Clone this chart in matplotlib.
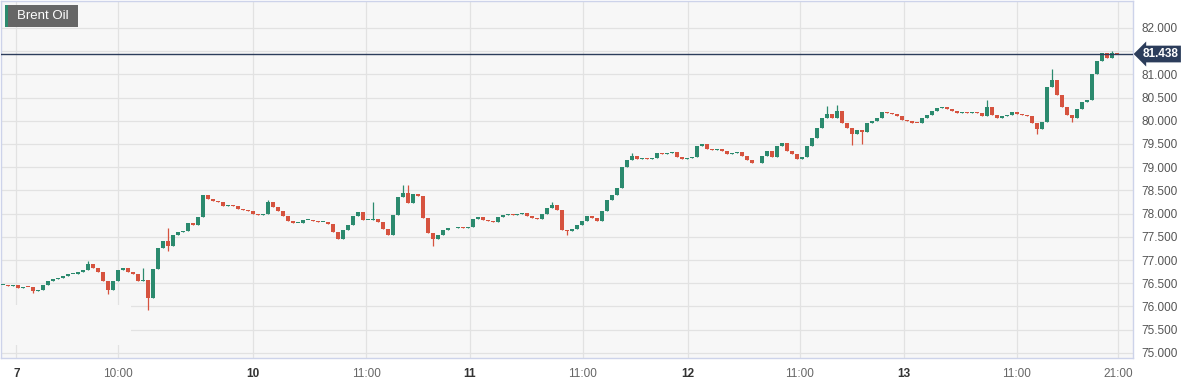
import numpy as np
import matplotlib.pyplot as plt
import matplotlib.transforms as mtransforms
from matplotlib.patches import Rectangle

plt.rcParams['font.family'] = ['Liberation Sans', 'DejaVu Sans']

# --- data (closes, one per bar) ---
closes = [
    76.47, 76.45, 76.46, 76.40, 76.43, 76.42, 76.33, 76.35, 76.46, 76.55,
    76.60, 76.62, 76.65, 76.70, 76.70, 76.74, 76.78, 76.92, 76.82, 76.75,
    76.55, 76.35, 76.55, 76.78, 76.82, 76.74, 76.70, 76.55, 76.58, 76.18,
    76.80, 77.25, 77.42, 77.30, 77.55, 77.60, 77.62, 77.80, 77.76, 77.93,
    78.40, 78.32, 78.28, 78.25, 78.17, 78.18, 78.17, 78.10, 78.08, 78.05,
    78.00, 77.98, 78.00, 78.25, 78.15, 78.05, 77.95, 77.85, 77.80, 77.80,
    77.86, 77.86, 77.84, 77.82, 77.83, 77.78, 77.60, 77.45, 77.65, 77.75,
    77.95, 78.04, 77.86, 77.86, 77.88, 77.82, 77.66, 77.55, 77.98, 78.35,
    78.45, 78.22, 78.42, 78.38, 77.90, 77.58, 77.45, 77.55, 77.65, 77.68,
    77.70, 77.72, 77.70, 77.72, 77.88, 77.92, 77.86, 77.84, 77.82, 77.92,
    77.98, 78.00, 77.98, 78.00, 78.01, 77.95, 77.90, 77.88, 78.00, 78.12,
    78.18, 78.08, 77.65, 77.62, 77.66, 77.75, 77.85, 77.94, 77.90, 77.84,
    78.05, 78.30, 78.40, 78.55, 79.00, 79.15, 79.25, 79.18, 79.20, 79.18,
    79.20, 79.30, 79.28, 79.30, 79.32, 79.22, 79.18, 79.20, 79.22, 79.45,
    79.50, 79.40, 79.38, 79.40, 79.35, 79.28, 79.30, 79.33, 79.25, 79.15,
    79.10, 79.08, 79.25, 79.35, 79.22, 79.45, 79.52, 79.35, 79.28, 79.18,
    79.22, 79.45, 79.62, 79.85, 80.05, 80.15, 80.05, 80.22, 79.95, 79.85,
    79.72, 79.80, 79.75, 79.95, 80.00, 80.05, 80.18, 80.17, 80.15, 80.10,
    80.02, 80.00, 79.96, 79.95, 80.05, 80.12, 80.20, 80.27, 80.30, 80.26,
    80.22, 80.16, 80.18, 80.17, 80.19, 80.16, 80.10, 80.30, 80.12, 80.05,
    80.10, 80.12, 80.18, 80.14, 80.13, 80.10, 79.95, 79.82, 79.98, 80.72,
    80.88, 80.55, 80.30, 80.12, 80.05, 80.25, 80.40, 80.45, 81.00, 81.28,
    81.45, 81.35, 81.47, 81.44,
]
first_open = 76.47
# long wicks that stand out (bar index -> price)
wick_high = {17: 76.98, 28: 76.83, 33: 77.70, 53: 78.30, 74: 78.24, 80: 78.62,
             81: 78.62, 110: 78.25, 126: 79.30, 165: 80.32, 167: 80.34,
             197: 80.45, 210: 81.12, 222: 81.50}
wick_low = {6: 76.28, 21: 76.26, 29: 75.93, 33: 77.20, 86: 77.30, 113: 77.55,
            170: 79.48, 172: 79.50, 207: 79.72, 214: 79.98}
last_price = 81.438

tick_pos = [2.7, 23.0, 50.0, 72.7, 93.5, 116.1, 137.1, 159.5, 180.4, 202.9, 223.2]
tick_labels = ['7', '10:00', '10', '11:00', '11', '11:00', '12', '11:00', '13', '11:00', '21:00']
day_labels = ['7', '10', '11', '12', '13']
y_ticks = [75.0, 75.5, 76.0, 76.5, 77.0, 77.5, 78.0, 78.5, 79.0, 79.5,
           80.0, 80.5, 81.0, 81.5, 82.0]

GREEN = '#2b8a6e'
RED = '#d6533f'
NAVY = '#2c3d5b'
BG = '#f7f7f7'

opens = [first_open] + closes[:-1]
x = np.arange(len(closes))
highs = [wick_high.get(i, max(o, c)) for i, (o, c) in enumerate(zip(opens, closes))]
lows = [wick_low.get(i, min(o, c)) for i, (o, c) in enumerate(zip(opens, closes))]
colors = [GREEN if c >= o else RED for o, c in zip(opens, closes)]
bottoms = [min(o, c) for o, c in zip(opens, closes)]
heights = [max(abs(c - o), 0.015) for o, c in zip(opens, closes)]

fig = plt.figure(figsize=(11.98, 3.85), dpi=100)
ax = fig.add_axes([0.0008, 0.0701, 0.9449, 0.9273])
ax.set_facecolor(BG)

ax.vlines(x, lows, highs, colors=colors, lw=0.9, zorder=2)
ax.bar(x, heights, bottom=bottoms, width=0.8, color=colors, linewidth=0, zorder=3)

ax.axhline(last_price, color=NAVY, lw=1, zorder=4)

# blank patch bottom-left where the grid is hidden
ax.add_patch(Rectangle((-0.4, 75.17), 26.0, 0.86, facecolor=BG, edgecolor='none', zorder=1))

ax.set_xlim(-0.4, 226.2)
ax.set_ylim(74.89, 82.58)

ax.set_xticks(tick_pos)
ax.set_xticklabels(tick_labels)
for lab in ax.get_xticklabels():
    if lab.get_text() in day_labels:
        lab.set_fontweight('bold')
        lab.set_color('#333333')
    else:
        lab.set_color('#666666')
ax.set_yticks(y_ticks)
# the 81.500 label sits under the price tag, so it is left blank
ax.set_yticklabels(['' if v == 81.5 else f'{v:.3f}' for v in y_ticks])
ax.yaxis.tick_right()
ax.tick_params(axis='y', length=0, pad=6, labelsize=8.5, labelcolor='#555555')
ax.tick_params(axis='x', length=0, pad=7, labelsize=8.5)

ax.set_axisbelow(True)
ax.grid(True, color='#e2e2e2', lw=0.9)
for sp in ax.spines.values():
    sp.set_color('#cdd3ea')
    sp.set_linewidth(1)

# last price tag on the right axis
trans = mtransforms.blended_transform_factory(ax.transAxes, ax.transData)
ax.annotate(f'{last_price:.3f}', xy=(1.0, last_price), xycoords=trans,
            xytext=(7, 0), textcoords='offset points', ha='left', va='center',
            fontsize=8.5, fontweight='bold', color='white', annotation_clip=False,
            bbox=dict(boxstyle='larrow,pad=0.2', fc=NAVY, ec='none'))

# title tag
fig.add_artist(Rectangle((5 / 1198, 1 - 27 / 385), 73 / 1198, 22 / 385,
                         transform=fig.transFigure, facecolor='#666666', edgecolor='none'))
fig.add_artist(Rectangle((5 / 1198, 1 - 27 / 385), 3 / 1198, 22 / 385,
                         transform=fig.transFigure, facecolor=GREEN, edgecolor='none'))
fig.text(17 / 1198, 1 - 16 / 385, 'Brent Oil', color='white', fontsize=9.5,
         va='center', ha='left')

fig.savefig('out.png', dpi=100, facecolor='white')
